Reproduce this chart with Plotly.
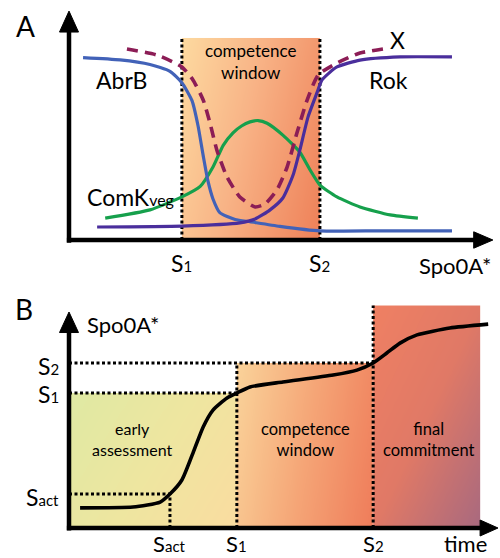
import numpy as np
import plotly.graph_objects as go

FONT = "Lato, 'Open Sans', sans-serif"
W, H = 500, 558

# ---------- Panel A: protein levels against Spo0A* ----------
S1_A, S2_A = 2.65, 5.89          # thresholds on the Spo0A* axis
RECT_TOP_A = 0.886               # top of the competence-window band

abrb_x = [0.33, 1.20, 1.90, 2.37, 2.65, 2.89, 3.03, 3.15, 3.26, 3.38, 3.54, 3.90, 4.25, 4.95, 5.89, 7.30, 8.99]
abrb_y = [0.80, 0.79, 0.77, 0.74, 0.69, 0.61, 0.50, 0.37, 0.26, 0.18, 0.12, 0.09, 0.08, 0.06, 0.04, 0.04, 0.04]

rok_x = [0.66, 2.65, 4.01, 4.37, 4.72, 5.02, 5.26, 5.42, 5.61, 5.82, 5.94, 6.29, 6.83, 7.77, 8.99]
rok_y = [0.057, 0.061, 0.075, 0.092, 0.132, 0.184, 0.285, 0.395, 0.539, 0.645, 0.702, 0.759, 0.789, 0.803, 0.803]

comk_x = [0.85, 1.90, 2.65, 3.08, 3.38, 3.62, 3.85, 4.05, 4.25, 4.44, 4.65, 5.02, 5.42, 5.66, 5.89, 6.29, 6.83, 7.54, 8.19]
comk_y = [0.096, 0.132, 0.189, 0.235, 0.320, 0.415, 0.470, 0.500, 0.518, 0.524, 0.512, 0.460, 0.385, 0.307, 0.241, 0.189, 0.145, 0.110, 0.096]

xrep_x = [1.36, 2.07, 2.65, 2.91, 3.15, 3.31, 3.47, 3.71, 4.01, 4.37, 4.60, 4.88, 5.12, 5.35, 5.59, 5.85, 6.29, 6.83, 7.37]
xrep_y = [0.838, 0.811, 0.759, 0.702, 0.614, 0.513, 0.395, 0.276, 0.189, 0.145, 0.158, 0.219, 0.320, 0.469, 0.614, 0.724, 0.776, 0.820, 0.838]

# ---------- Panel B: Spo0A* against time ----------
T_ACT, T_S1, T_S2, T_END = 2.37, 3.94, 7.14, 9.65
L_ACT, L_S1, L_S2, L_TOP = 0.157, 0.625, 0.764, 1.03

spo_t = [0.26, 1.50, 2.14, 2.37, 2.65, 2.91, 3.15, 3.38, 3.71, 3.94, 4.25, 5.02, 6.20, 6.76, 7.14, 7.46, 7.77, 8.17, 8.94, 9.84]
spo_l = [0.093, 0.097, 0.120, 0.157, 0.222, 0.347, 0.468, 0.546, 0.602, 0.625, 0.653, 0.676, 0.708, 0.731, 0.764, 0.810, 0.856, 0.894, 0.926, 0.944]

# axis scaling (pixels per unit) used to lay out the two panels
PX_X = 42.6
PX_YA = 228.0
PX_YB = 216.0
X0_PX = 69
XA_RANGE = [-0.3, (W - X0_PX) / PX_X]
YA_RANGE = [-0.05, 240 / PX_YA]
YB_RANGE = [-0.05, 238 / PX_YB]


def dom_x():
    left = X0_PX + XA_RANGE[0] * PX_X
    return [left / W, 1.0]


def dom_y(base_px, rng, scale):
    bottom = base_px - rng[0] * scale
    top = base_px - rng[1] * scale
    return [1 - bottom / H, 1 - top / H]


def gradient(x0, x1, y0, y1, wx, wy, colors, xa, ya, n=40):
    """Linear colour ramp filling a rectangle (wx: left->right, wy: top->bottom)."""
    xe = np.linspace(x0, x1, n + 1)
    ye = np.linspace(y0, y1, n + 1)
    xc = (xe[:-1] + xe[1:]) / 2
    yc = (ye[:-1] + ye[1:]) / 2
    u = (xc - x0) / (x1 - x0)
    v = (y1 - yc) / (y1 - y0)
    z = wx * u[None, :] + wy * v[:, None]
    return go.Heatmap(x=xe, y=ye, z=z, zmin=0, zmax=wx + wy, colorscale=colors,
                      showscale=False, zsmooth="best", hoverinfo="skip",
                      xaxis=xa, yaxis=ya)


def dotted(xs, ys, xa, ya):
    return go.Scatter(x=xs, y=ys, mode="lines", xaxis=xa, yaxis=ya, hoverinfo="skip",
                      line=dict(color="black", width=3, dash="3px,2.5px"), showlegend=False)


def curve(xs, ys, color, xa, ya, dash="solid", width=3.2):
    return go.Scatter(x=xs, y=ys, mode="lines", xaxis=xa, yaxis=ya, hoverinfo="skip",
                      line=dict(color=color, width=width, shape="spline", smoothing=0.55, dash=dash),
                      showlegend=False)


def sub(base, low):
    # small index sitting near the baseline (as in S1, S2, Sact)
    return f"{base}<span style='font-size:15px'>{low}</span>"


fig = go.Figure()

# panel A background band
fig.add_trace(gradient(S1_A, S2_A, 0, RECT_TOP_A, 1.0, 0.35,
                       [[0, "#FDDAA0"], [0.45, "#F8B386"], [1, "#EE8058"]], "x", "y"))
fig.add_trace(dotted([S1_A, S1_A], [0, RECT_TOP_A], "x", "y"))
fig.add_trace(dotted([S2_A, S2_A], [0, RECT_TOP_A], "x", "y"))
fig.add_trace(curve(comk_x, comk_y, "#16A04C", "x", "y"))
fig.add_trace(curve(xrep_x, xrep_y, "#8C1D56", "x", "y", dash="11px,7px", width=3.6))
fig.add_trace(curve(abrb_x, abrb_y, "#4262B8", "x", "y"))
fig.add_trace(curve(rok_x, rok_y, "#4A2E9C", "x", "y"))

# panel B backgrounds
fig.add_trace(gradient(0, T_S1, 0, L_S1, 1.0, 0.5,
                       [[0, "#DFE9A3"], [0.5, "#EEE6A0"], [1, "#FADCA0"]], "x2", "y2"))
fig.add_trace(gradient(T_S1, T_S2, 0, L_S2, 1.0, 0.2,
                       [[0, "#FAD39A"], [0.5, "#F5A677"], [1, "#EF7C5A"]], "x2", "y2"))
fig.add_trace(gradient(T_S2, T_END, 0, L_TOP, 1.0, 1.0,
                       [[0, "#EF8063"], [0.5, "#E07966"], [1, "#A8697F"]], "x2", "y2"))

fig.add_trace(dotted([0, T_S2], [L_S2, L_S2], "x2", "y2"))
fig.add_trace(dotted([0, T_S1], [L_S1, L_S1], "x2", "y2"))
fig.add_trace(dotted([0, T_ACT], [L_ACT, L_ACT], "x2", "y2"))
fig.add_trace(dotted([T_ACT, T_ACT], [0, L_ACT], "x2", "y2"))
fig.add_trace(dotted([T_S1, T_S1], [0, L_S2], "x2", "y2"))
fig.add_trace(dotted([T_S2, T_S2], [0, L_TOP], "x2", "y2"))
fig.add_trace(curve(spo_t, spo_l, "black", "x2", "y2", width=3.6))

# axes with arrowheads
shapes = []
ax_line = dict(color="black", width=4.5)
head = dict(fillcolor="black", line=dict(color="black", width=1))
# panel A
shapes.append(dict(type="line", xref="x", yref="y", x0=0, x1=0, y0=-0.012, y1=0.93, line=ax_line))
shapes.append(dict(type="path", xref="x", yref="y", path="M -0.223 0.912 L 0 1.004 L 0.223 0.912 Z", **head))
shapes.append(dict(type="line", xref="x", yref="y", x0=-0.05, x1=9.55, y0=0, y1=0, line=ax_line))
shapes.append(dict(type="path", xref="x", yref="y", path="M 9.5 -0.036 L 9.95 0 L 9.5 0.036 Z", **head))
# panel B
shapes.append(dict(type="line", xref="x2", yref="y2", x0=0, x1=0, y0=-0.012, y1=0.91, line=ax_line))
shapes.append(dict(type="path", xref="x2", yref="y2", path="M -0.223 0.905 L 0 1.0 L 0.223 0.905 Z", **head))
shapes.append(dict(type="line", xref="x2", yref="y2", x0=-0.05, x1=9.7, y0=0, y1=0, line=ax_line))
shapes.append(dict(type="path", xref="x2", yref="y2", path="M 9.65 -0.037 L 10.07 0 L 9.65 0.037 Z", **head))

ann = []


def label(text, x, y, xa, ya, size, xanchor="center", yanchor="middle"):
    ann.append(dict(text=text, x=x, y=y, xref=xa, yref=ya, showarrow=False,
                    xanchor=xanchor, yanchor=yanchor,
                    font=dict(family=FONT, size=size, color="black")))


def below_axis(text, x, xa, py, size):
    # labels under an x axis: data position along x, fixed height on the page
    ann.append(dict(text=text, x=x, y=1 - py / H, xref=xa, yref="paper", showarrow=False,
                    xanchor="center", yanchor="middle",
                    font=dict(family=FONT, size=size, color="black")))


def paper_label(text, px, py, size):
    ann.append(dict(text=text, x=px / W, y=1 - py / H, xref="paper", yref="paper",
                    showarrow=False, xanchor="center", yanchor="middle",
                    font=dict(family=FONT, size=size, color="black")))


paper_label("A", 25, 26, 28)
paper_label("B", 24, 309, 28)

# panel A text
label("AbrB", 1.24, 0.70, "x", "y", 23)
label("Rok", 7.51, 0.70, "x", "y", 23)
label("X", 7.70, 0.877, "x", "y", 23)
label("ComK<span style='font-size:16px'>veg</span>", 1.45, 0.19, "x", "y", 23)
label("competence<br>window", 4.27, 0.785, "x", "y", 17)
below_axis(sub("S", "1"), S1_A, "x", 263, 23)
below_axis(sub("S", "2"), S2_A, "x", 263, 23)
below_axis("Spo0A*", 9.06, "x", 265, 22)

# panel B text
label("Spo0A*", 1.26, 0.94, "x2", "y2", 22)
label("early<br>assessment", 1.50, 0.41, "x2", "y2", 16)
label("competence<br>window", 5.54, 0.41, "x2", "y2", 16.5)
label("final<br>commitment", 8.43, 0.41, "x2", "y2", 16.5)
label(sub("S", "2"), -0.19, L_S2 - 0.015, "x2", "y2", 23, xanchor="right")
label(sub("S", "1"), -0.19, L_S1 - 0.005, "x2", "y2", 23, xanchor="right")
label(sub("S", "act"), -0.19, L_ACT - 0.015, "x2", "y2", 23, xanchor="right")
below_axis(sub("S", "act"), T_ACT, "x2", 543, 22)
below_axis(sub("S", "1"), T_S1, "x2", 543, 22)
below_axis(sub("S", "2"), T_S2, "x2", 543, 22)
below_axis("time", 9.30, "x2", 543, 22)

hidden = dict(visible=False, showgrid=False, zeroline=False, fixedrange=True)
fig.update_layout(
    width=W, height=H,
    margin=dict(l=0, r=0, t=0, b=0),
    paper_bgcolor="white", plot_bgcolor="rgba(0,0,0,0)",
    showlegend=False,
    xaxis=dict(domain=dom_x(), range=XA_RANGE, **hidden),
    yaxis=dict(domain=dom_y(240, YA_RANGE, PX_YA), range=YA_RANGE, **hidden),
    xaxis2=dict(domain=dom_x(), range=XA_RANGE, anchor="y2", **hidden),
    yaxis2=dict(domain=dom_y(528, YB_RANGE, PX_YB), range=YB_RANGE, anchor="x2", **hidden),
    shapes=shapes,
    annotations=ann,
)

fig.write_html("out.html")
